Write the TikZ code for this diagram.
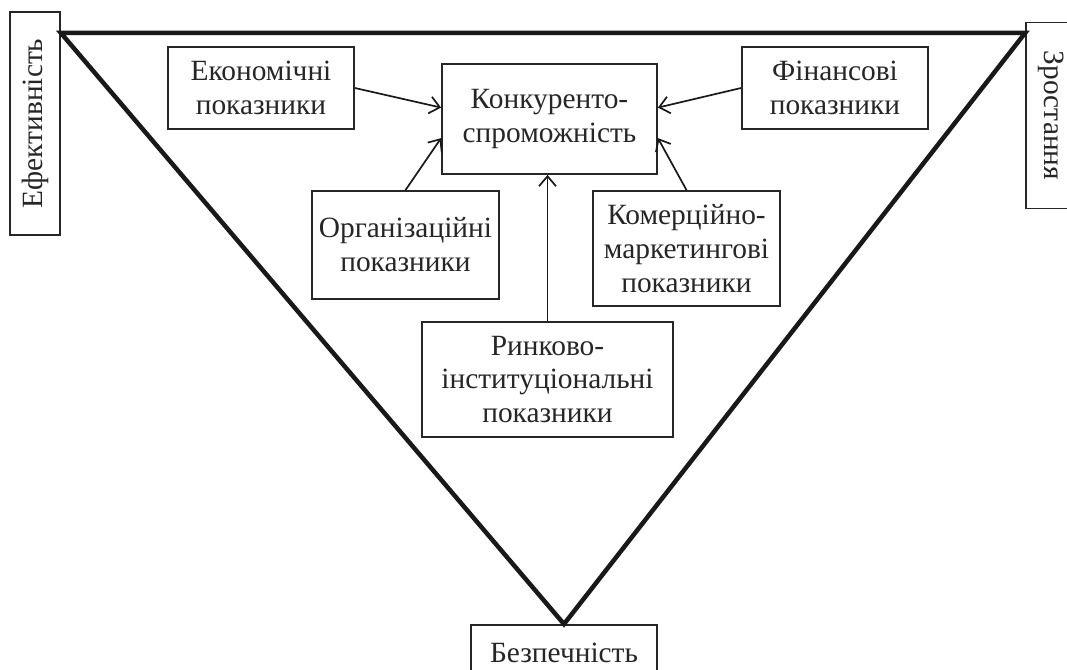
\documentclass[tikz,border=0pt]{standalone}
\usepackage{fontspec}
\setmainfont{Liberation Serif}
\usepackage{tikz}
\usetikzlibrary{arrows.meta}
\tikzset{
  indS/.style  ={draw=black!85, line width=1.8bp, align=center, inner sep=2bp,
                 font=\fontsize{29.5}{34}\selectfont, text=black!85},
  sideS/.style ={indS, minimum height=50bp},
  frameS/.style={black!90, line width=4.5bp, line join=miter},
  link/.style  ={black!90, line width=1.7bp, -{Straight Barb[length=10bp,width=17bp,line width=1.7bp]}},
}
\begin{document}
\begin{tikzpicture}[x=1bp,y=-1bp]
  \useasboundingbox (0,0) rectangle (1067,670);
  % side labels
  \node[sideS, rotate=90,  minimum width=223bp] (eff) at (35,123.5) {Ефективність};
  \node[sideS, rotate=-90, minimum width=186bp] (zr)  at (1051,115.5) {Зростання};
  \node[sideS, minimum width=186bp, minimum height=56bp] (bez) at (564,653) {Безпечність};
  % triangle
  \coordinate (tl) at (eff.south |- 0,33);
  \coordinate (tr) at (zr.south |- 0,33);
  \draw[frameS] (bez.north) -- (tl) -- (tr) -- cycle;
  % indicators
  \node[indS, minimum width=215bp, minimum height=110bp] (konk) at (549.5,119) {Конкуренто-\\спроможність};
  \node[indS, minimum width=186bp, minimum height=82bp]  (econ) at (261,88)    {Економічні\\показники};
  \node[indS, minimum width=186bp, minimum height=82bp]  (fin)  at (835,88)    {Фінансові\\показники};
  \node[indS, minimum width=187bp, minimum height=108bp] (org)  at (405.5,245) {Організаційні\\показники};
  \node[indS, minimum width=187bp, minimum height=115bp] (kom)  at (686.5,248.5) {Комерційно-\\маркетингові\\показники};
  \node[indS, minimum width=251bp, minimum height=115bp] (rynk) at (547.5,379.5) {Ринково-\\інституціональні\\показники};
  % arrows
  \draw[link] (econ.east)  -- (konk.174);
  \draw[link] (org.north)  -- (konk.190);
  \draw[link] (fin.west)   -- (konk.6);
  \draw[link] (kom.north)  -- (konk.350);
  \draw[link] (rynk.north) -- (rynk.north |- konk.south);
\end{tikzpicture}
\end{document}
